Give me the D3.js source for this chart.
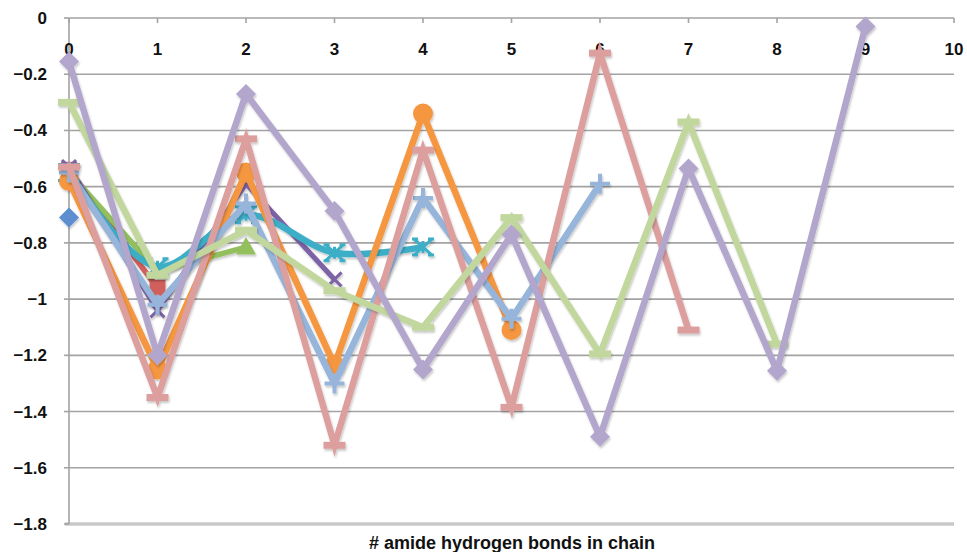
<!DOCTYPE html>
<html>
<head>
<meta charset="utf-8">
<script src="https://cdn.jsdelivr.net/npm/d3@7"></script>
<style>
  html, body { margin: 0; padding: 0; background: #ffffff; }
  svg { display: block; }
  text { font-family: "Liberation Sans", Arial, sans-serif; font-weight: bold; fill: #111; }
</style>
</head>
<body>
<svg id="chart" width="967" height="552"></svg>
<script>
// ---- data ----
const xTicks = [0, 1, 2, 3, 4, 5, 6, 7, 8, 9, 10];
const yTicks = [0, -0.2, -0.4, -0.6, -0.8, -1, -1.2, -1.4, -1.6, -1.8];
const xTitle = "# amide hydrogen bonds in chain";

const blueDiamond        = [-0.71];
const redSquare          = [-0.54, -0.96];
const greenTriangle      = [-0.55, -0.90, -0.815];
const purpleX            = [-0.53, -1.04, -0.59, -0.93];
const cyanStar           = [-0.55, -0.885, -0.70, -0.835, -0.815];
const orangeCircle       = [-0.58, -1.25, -0.55, -1.235, -0.34, -1.11];
const lightBluePlus      = [-0.55, -1.02, -0.66, -1.30, -0.64, -1.07, -0.59];
const lightRedDash       = [-0.53, -1.35, -0.43, -1.52, -0.47, -1.385, -0.125, -1.11];
const lightGreenDash     = [-0.30, -0.915, -0.755, -0.97, -1.10, -0.71, -1.195, -0.37, -1.16];
const lightPurpleDiamond = [-0.155, -1.20, -0.27, -0.687, -1.25, -0.77, -1.49, -0.535, -1.255, -0.03];

const series = [
  { values: blueDiamond,        color: "#5b8ed0", marker: "diamond",  width: 5.5 },
  { values: redSquare,          color: "#d0605b", marker: "square",   width: 5.5 },
  { values: greenTriangle,      color: "#93bf5c", marker: "triangle", width: 5.5 },
  { values: purpleX,            color: "#7d63a6", marker: "x",        width: 5 },
  { values: cyanStar,           color: "#3eaec7", marker: "star",     width: 6.5, smooth: true },
  { values: orangeCircle,       color: "#f5963f", marker: "circle",   width: 6.5 },
  { values: lightBluePlus,      color: "#97b5da", marker: "plus",     width: 6.5 },
  { values: lightRedDash,       color: "#dc9f9e", marker: "dash",     width: 6.5 },
  { values: lightGreenDash,     color: "#c1d79d", marker: "dash",     width: 6.5 },
  { values: lightPurpleDiamond, color: "#b3a6cd", marker: "diamond",  width: 6.5 }
];

// ---- layout ----
const svg = d3.select("#chart");
const x = d3.scaleLinear().domain([0, 10]).range([69, 954]);
const y = d3.scaleLinear().domain([-1.8, 0]).range([524, 18]);

const defs = svg.append("defs");
const f = defs.append("filter").attr("id", "shadow").attr("x", "-20%").attr("y", "-20%").attr("width", "140%").attr("height", "140%");
f.append("feDropShadow").attr("dx", 1).attr("dy", 2).attr("stdDeviation", 1.3)
  .attr("flood-color", "#000").attr("flood-opacity", 0.22);

// gridlines
svg.append("g").selectAll("line")
  .data(yTicks.filter(d => d > -1.79))
  .join("line")
  .attr("x1", x(0)).attr("x2", x(10))
  .attr("y1", d => y(d)).attr("y2", d => y(d))
  .attr("stroke", "#a3a3a3").attr("stroke-width", 1.6);

// bottom line
svg.append("line")
  .attr("x1", x(0) - 4).attr("x2", x(10))
  .attr("y1", y(-1.8)).attr("y2", y(-1.8))
  .attr("stroke", "#c9c9c9").attr("stroke-width", 3.5);

// y axis line
svg.append("line")
  .attr("x1", x(0)).attr("x2", x(0))
  .attr("y1", y(0)).attr("y2", y(-1.8))
  .attr("stroke", "#a3a3a3").attr("stroke-width", 1.6);

// y tick marks
svg.append("g").selectAll("line")
  .data(yTicks)
  .join("line")
  .attr("x1", x(0) - 5).attr("x2", x(0))
  .attr("y1", d => y(d)).attr("y2", d => y(d))
  .attr("stroke", "#a3a3a3").attr("stroke-width", 1.6);

// x tick marks along top (y = 0) line
svg.append("g").selectAll("line")
  .data(xTicks)
  .join("line")
  .attr("x1", d => x(d)).attr("x2", d => x(d))
  .attr("y1", y(0)).attr("y2", y(0) + 5)
  .attr("stroke", "#a3a3a3").attr("stroke-width", 1.6);

// y labels
svg.append("g").selectAll("text")
  .data(yTicks)
  .join("text")
  .attr("x", 47).attr("y", d => y(d) + 6)
  .attr("text-anchor", "end")
  .style("font-size", "17px")
  .text(d => d3.format("")(+d.toFixed(1)));

// x labels
svg.append("g").selectAll("text")
  .data(xTicks)
  .join("text")
  .attr("x", d => x(d)).attr("y", 55)
  .attr("text-anchor", "middle")
  .style("font-size", "17px")
  .text(d => d);

// x title
svg.append("text")
  .attr("x", 512).attr("y", 549)
  .attr("text-anchor", "middle")
  .style("font-size", "18px")
  .text(xTitle);

// ---- series ----
function markerPath(type, s) {
  const h = s;
  switch (type) {
    case "diamond": return `M0,${-h}L${h},0L0,${h}L${-h},0Z`;
    case "square": return `M${-h*0.8},${-h*0.8}H${h*0.8}V${h*0.8}H${-h*0.8}Z`;
    case "triangle": return `M0,${-h}L${h},${h*0.75}L${-h},${h*0.75}Z`;
    default: return null;
  }
}

series.forEach(sr => {
  const g = svg.append("g").attr("filter", "url(#shadow)");
  const pts = sr.values.map((v, i) => [i, v]);
  const line = d3.line()
    .x(d => x(d[0])).y(d => y(d[1]))
    .curve(sr.smooth ? d3.curveCatmullRom.alpha(0.5) : d3.curveLinear);
  if (pts.length > 1) {
    g.append("path")
      .attr("d", line(pts))
      .attr("fill", "none")
      .attr("stroke", sr.color)
      .attr("stroke-width", sr.width)
      .attr("stroke-linejoin", "miter")
      .attr("stroke-miterlimit", 10);
  }
  const m = g.selectAll("g.m").data(pts).join("g")
    .attr("transform", d => `translate(${x(d[0])},${y(d[1])})`);
  if (["diamond", "square", "triangle"].includes(sr.marker)) {
    m.append("path").attr("d", markerPath(sr.marker, 10)).attr("fill", sr.color);
  } else if (sr.marker === "circle") {
    m.append("circle").attr("r", 10).attr("fill", sr.color);
  } else if (sr.marker === "x") {
    m.append("path").attr("d", "M-7,-7L7,7M7,-7L-7,7")
      .attr("stroke", sr.color).attr("stroke-width", 3).attr("fill", "none");
  } else if (sr.marker === "plus") {
    m.append("path").attr("d", "M-10,0H10M0,-10V10")
      .attr("stroke", sr.color).attr("stroke-width", 4).attr("fill", "none");
  } else if (sr.marker === "star") {
    m.append("path").attr("d", "M-9,-8L9,8M9,-8L-9,8M-11,-8H-5M5,-8H11M-11,8H-5M5,8H11M0,-6V6")
      .attr("stroke", sr.color).attr("stroke-width", 3).attr("fill", "none");
  } else if (sr.marker === "dash") {
    m.append("rect").attr("x", -11).attr("y", -3.5).attr("width", 22).attr("height", 7)
      .attr("fill", sr.color);
  }
});
</script>
</body>
</html>
